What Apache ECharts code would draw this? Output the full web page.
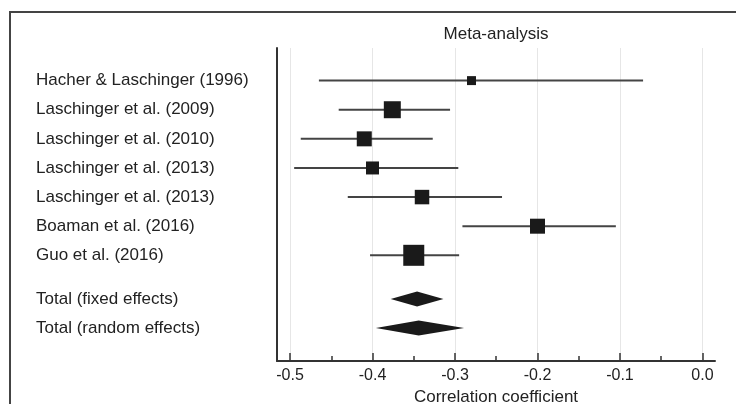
<!DOCTYPE html>
<html>
<head>
<meta charset="utf-8">
<title>Meta-analysis</title>
<script src="https://cdn.jsdelivr.net/npm/echarts@6/dist/echarts.min.js"></script>
<style>
  html, body { margin: 0; padding: 0; background: #fff; }
  #chart { width: 736px; height: 404px; }
</style>
</head>
<body>
<div id="chart"></div>
<script>
// 研究名称
const studies = [
  'Hacher & Laschinger (1996)',
  'Laschinger et al. (2009)',
  'Laschinger et al. (2010)',
  'Laschinger et al. (2013)',
  'Laschinger et al. (2013)',
  'Boaman et al. (2016)',
  'Guo et al. (2016)'
]
// 相关系数及置信区间
const estimate = [-0.280, -0.376, -0.410, -0.400, -0.340, -0.200, -0.350]
const lower = [-0.465, -0.441, -0.487, -0.495, -0.430, -0.291, -0.403]
const upper = [-0.072, -0.306, -0.327, -0.296, -0.243, -0.105, -0.295]
// 权重 (%)
const weights = [4.9, 17.6, 13.7, 10.3, 12.8, 13.7, 26.9]
// 合并结果
const totals = ['Total (fixed effects)', 'Total (random effects)']
const totalEstimate = [-0.346, -0.344]
const totalLower = [-0.378, -0.396]
const totalUpper = [-0.314, -0.289]
// 行位置
const studyRows = [0, 1, 2, 3, 4, 5, 6]
const totalRows = [7.5, 8.5]
// 刻度
const majorTicks = [-0.5, -0.4, -0.3, -0.2, -0.1, 0.0]
const minorTicks = [-0.45, -0.35, -0.25, -0.15, -0.05]

const allRows = studyRows.concat(totalRows)
const allNames = studies.concat(totals)
const font = 'Liberation Sans, Arial, sans-serif'
const xMin = -0.5158
const xMax = 0.0152

const chart = echarts.init(document.getElementById('chart'))

const option = {
  animation: false,
  backgroundColor: '#fff',
  title: {
    text: 'Meta-analysis',
    left: 496,
    top: 26,
    padding: 0,
    textAlign: 'center',
    textStyle: { fontFamily: font, fontSize: 17, fontWeight: 'normal', color: '#222' }
  },
  graphic: [
    {
      type: 'polyline',
      shape: { points: [[10, 404], [10, 12], [736, 12]] },
      style: { stroke: '#444', lineWidth: 2, fill: null },
      silent: true
    }
  ],
  grid: { left: 277, right: 21, top: 48, bottom: 43, outerBoundsMode: 'none' },
  xAxis: [
    {
      type: 'value',
      min: xMin,
      max: xMax,
      name: 'Correlation coefficient',
      nameLocation: 'middle',
      nameGap: 26,
      nameTextStyle: { fontFamily: font, fontSize: 17, color: '#222' },
      axisLine: { onZero: false, lineStyle: { color: '#333', width: 2 } },
      axisTick: { inside: true, length: 8, customValues: majorTicks, lineStyle: { color: '#333', width: 1.5 } },
      axisLabel: {
        customValues: majorTicks,
        margin: 7,
        fontFamily: font,
        fontSize: 16,
        color: '#222',
        formatter: (v) => v.toFixed(1)
      },
      splitLine: { show: true, lineStyle: { color: '#e6e6e6', width: 1 } }
    },
    {
      type: 'value',
      min: xMin,
      max: xMax,
      position: 'bottom',
      axisLine: { show: false, onZero: false },
      axisTick: { inside: true, length: 5, customValues: minorTicks, lineStyle: { color: '#333', width: 1.5 } },
      axisLabel: { show: false },
      splitLine: { show: false }
    }
  ],
  yAxis: {
    type: 'value',
    inverse: true,
    min: -1.12,
    max: 9.63,
    axisLine: { show: true, onZero: false, lineStyle: { color: '#333', width: 2 } },
    axisTick: { show: false },
    splitLine: { show: false },
    axisLabel: {
      customValues: allRows,
      align: 'left',
      margin: 241,
      fontFamily: font,
      fontSize: 17,
      color: '#222',
      formatter: (v) => allNames[allRows.indexOf(v)]
    }
  },
  series: [
    {
      name: 'ci',
      type: 'custom',
      data: studyRows.map((r, i) => [r, lower[i], upper[i]]),
      encode: { x: [1, 2], y: 0 },
      renderItem: (params, api) => {
        const a = api.coord([api.value(1), api.value(0)])
        const b = api.coord([api.value(2), api.value(0)])
        return {
          type: 'line',
          shape: { x1: a[0], y1: a[1], x2: b[0], y2: b[1] },
          style: { stroke: '#444', lineWidth: 2 }
        }
      },
      z: 2
    },
    {
      name: 'estimate',
      type: 'scatter',
      symbol: 'rect',
      data: studyRows.map((r, i) => [estimate[i], r, weights[i]]),
      symbolSize: (d) => Math.sqrt(d[2]) * 4.05,
      itemStyle: { color: '#1a1a1a', opacity: 1 },
      z: 3
    },
    {
      name: 'totals',
      type: 'custom',
      data: totalRows.map((r, i) => [r, totalLower[i], totalEstimate[i], totalUpper[i]]),
      encode: { x: [1, 2, 3], y: 0 },
      renderItem: (params, api) => {
        const l = api.coord([api.value(1), api.value(0)])
        const c = api.coord([api.value(2), api.value(0)])
        const r = api.coord([api.value(3), api.value(0)])
        return {
          type: 'polygon',
          shape: { points: [[l[0], l[1]], [c[0], c[1] - 7.5], [r[0], r[1]], [c[0], c[1] + 7.5]] },
          style: { fill: '#1a1a1a' }
        }
      },
      z: 3
    }
  ]
}

chart.setOption(option)
</script>
</body>
</html>
